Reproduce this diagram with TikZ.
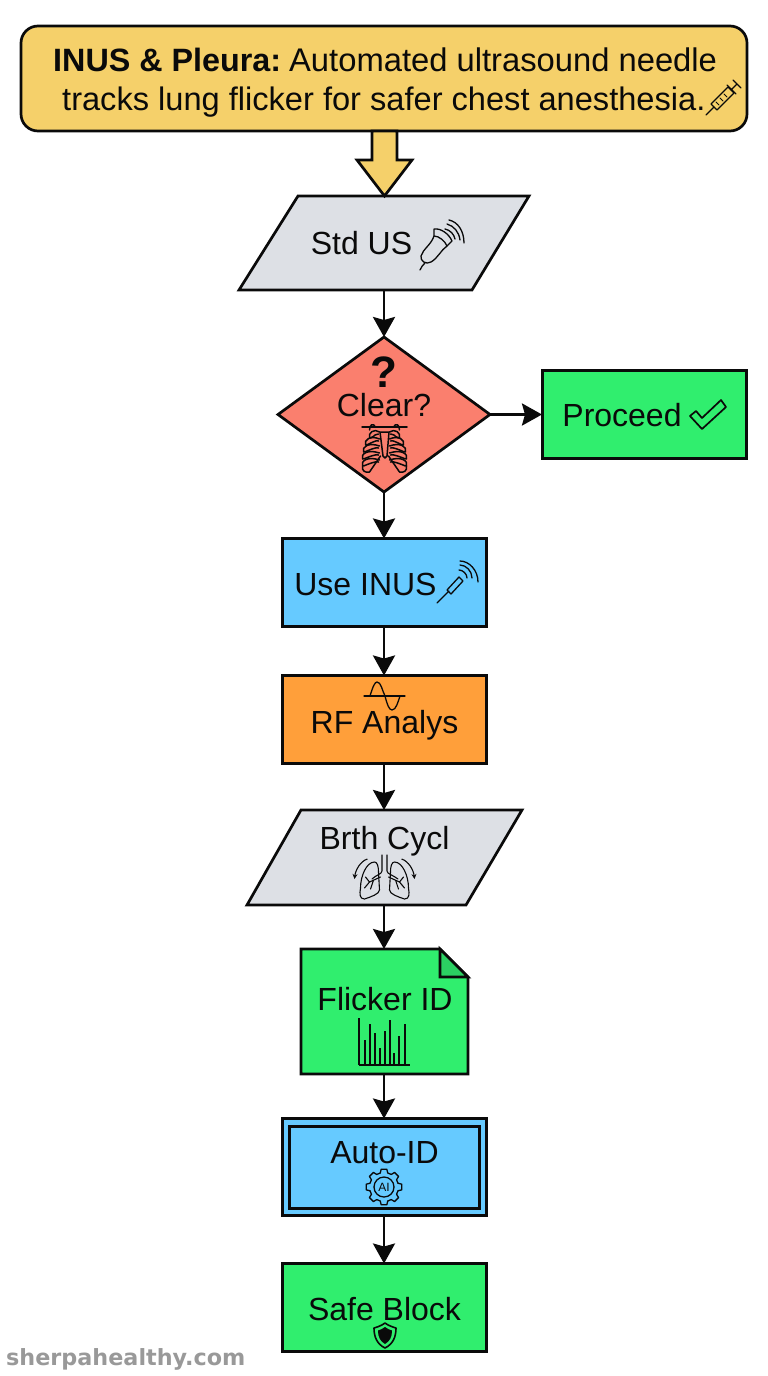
\documentclass[tikz,border=0pt]{standalone}
\usepackage{fontspec}
\setmainfont{Liberation Sans}
\newfontfamily\wmfont{DejaVu Sans}
\usetikzlibrary{arrows.meta,shapes.geometric}
\definecolor{cyellow}{HTML}{F5D06A}
\definecolor{cgray}{HTML}{DDE0E5}
\definecolor{cred}{HTML}{FA7F6E}
\definecolor{cgreen}{HTML}{30EE6E}
\definecolor{cfold}{HTML}{2BD062}
\definecolor{cblue}{HTML}{66CAFF}
\definecolor{corange}{HTML}{FF9F3A}
\definecolor{cmark}{HTML}{999999}
\definecolor{cink}{HTML}{0A0A0A}
\tikzset{
  x=1pt,y=-1pt,
  outl/.style={draw=cink,line width=2.7pt,line join=miter},
  boxnode/.style={outl,line width=3pt,rectangle,inner sep=0pt,outer sep=0pt,minimum width=204pt,minimum height=88pt},
  anchorbox/.style={rectangle,inner sep=0pt,outer sep=0pt},
  lbl/.style={anchor=base,inner sep=0pt,font=\fontsize{32}{36}\selectfont,text=cink},
  hdr/.style={anchor=base west,inner sep=0pt,font=\fontsize{32.6}{36}\selectfont,text=cink},
  flow/.style={draw=cink,line width=2.8pt,-{Stealth[length=20pt,width=22pt,inset=3pt]}},
  ico/.style={draw=cink,line width=1.3pt,line cap=round,line join=round},
}
\begin{document}
\begin{tikzpicture}
\useasboundingbox (0,0) rectangle (768,1376);
% header
\node[outl,rectangle,rounded corners=17pt,fill=cyellow,inner sep=0pt,outer sep=0pt,minimum width=726pt,minimum height=105pt] (head) at (384,78.5) {};
\node[hdr] (headA) at (53,71) {{\bfseries\fontsize{32.3}{36}\selectfont INUS \& Pleura:}\hspace{8pt}{\fontsize{32.75}{36}\selectfont Automated ultrasound needle}};
\node[hdr] (headB) at (62,110) {tracks lung flicker for safer chest anesthesia.};
% nodes
\node[anchorbox,minimum width=233pt,minimum height=94pt] (stdus) at (384,243) {};
\draw[outl,fill=cgray] (298,196) -- (529,196) -- (472,290) -- (239,290) -- cycle;
\node[outl,diamond,fill=cred,inner sep=0pt,outer sep=0pt,minimum width=212pt,minimum height=155pt] (clear) at (384,414.5) {};
\node[boxnode,fill=cgreen] (proc) at (644,414.5) {};
\node[boxnode,fill=cblue] (inus) at (384,582.5) {};
\node[boxnode,fill=corange] (rf) at (384,719.5) {};
\node[anchorbox,minimum width=221pt,minimum height=95pt] (brth) at (384,857.5) {};
\draw[outl,fill=cgray] (301,810) -- (522,810) -- (466,905) -- (247,905) -- cycle;
\node[anchorbox,minimum width=167pt,minimum height=125pt] (flick) at (384,1011.5) {};
\draw[outl,fill=cgreen] (301,949) -- (440,949) -- (468,977) -- (468,1074) -- (301,1074) -- cycle;
\draw[outl,fill=cfold] (440,949) -- (440,977) -- (468,977) -- cycle;
\node[boxnode,fill=cblue,minimum height=97pt] (auto) at (384,1167) {};
\node[outl,line width=3pt,rectangle,inner sep=0pt,outer sep=0pt,minimum width=190pt,minimum height=82pt] (autoin) at (384,1167) {};
\node[boxnode,fill=cgreen] (safe) at (384,1307.5) {};
% block arrow
\draw[outl,fill=cyellow] (372,131) -- (397,131) -- (397,160) -- (412,160) -- (384.5,196) -- (357,160) -- (372,160) -- cycle;
% connectors
\draw[flow] (stdus.south) -- (clear.north);
\draw[flow] (clear.east) -- (proc.west);
\draw[flow] (clear.south) -- (inus.north);
\draw[flow] (inus.south) -- (rf.north);
\draw[flow] (rf.south) -- (brth.north);
\draw[flow] (brth.south) -- (flick.north);
\draw[flow] (flick.south) -- (auto.north);
\draw[flow] (auto.south) -- (safe.north);
% labels
\node[lbl] (tStd) at (361.5,254) {Std US};
\node[lbl,font=\bfseries\fontsize{44}{46}\selectfont] (tQ) at (384,387) {?};
\node[lbl] (tClear) at (384,416) {Clear?};
\node[lbl] (tProc) at (622,426) {Proceed};
\node[lbl] (tInus) at (365.5,595) {Use INUS};
\node[lbl] (tRf) at (384.5,733) {RF Analys};
\node[lbl] (tBrth) at (384.5,849) {Brth Cycl};
\node[lbl] (tFlick) at (385,1010) {Flicker ID};
\node[lbl] (tAuto) at (384.5,1163) {Auto-ID};
\node[lbl] (tSafe) at (384.5,1320) {Safe Block};
\node[anchor=base west,inner sep=0pt,font=\wmfont\bfseries\fontsize{22.3}{26}\selectfont,text=cmark] (wm) at (6,1365) {sherpahealthy.com};
% syringe
\draw[ico] (706,115) -- (714,107);
\draw[ico] (711,104) -- (717,110) -- (734,93) -- (728,87) -- cycle;
\draw[ico] (727,85) -- (736,94) (731,90) -- (737,84) (733,80) -- (741,88);
\draw[ico,line width=.9pt] (716,102) -- (719,105) (720,98) -- (723,101) (724,94) -- (727,97);
% probe
\draw[ico] (434,229) .. controls (441,228) and (449,234) .. (452,241) -- (447,246)
  .. controls (441,250) and (438,258) .. (431,262) .. controls (426,265) and (420,261) .. (421,256)
  .. controls (423,249) and (431,245) .. (434,236) -- cycle;
\draw[ico] (434,236) .. controls (439,236) and (445,241) .. (447,246);
\draw[ico] (425,263) .. controls (422,265) and (422,267) .. (420,270);
\draw[ico] (445,229) .. controls (450,230) and (454,234) .. (455,239);
\draw[ico] (447,224) .. controls (454,226) and (459,232) .. (460,240);
\draw[ico] (449,220) .. controls (458,222) and (464,231) .. (464,243);
% check
\draw[ico,line width=1.7pt] (690,416) -- (702,429) -- (726,407) -- (721,400) -- (702,418) -- (696,411) -- cycle;
% ribcage
\draw[ico,line width=1.5pt] (362,427) -- (407,427);
\draw[ico,line width=1.5pt] (380,432) -- (383,456) -- (385,458) -- (387,456) -- (389,432) -- cycle;
\foreach \s in {-1,1}{
  \foreach \y/\w in {432/15,439/19,446/21,453/22,460/22}{
    \draw[ico,line width=1.5pt] ({384.5+\s*5},\y) .. controls ({384.5+\s*(\w-5)},{\y-4}) and ({384.5+\s*(\w+2)},{\y+1}) .. ({384.5+\s*\w},{\y+6}) ({384.5+\s*(\w-1)},{\y+6}) .. controls ({384.5+\s*(\w-6)},{\y+4}) and ({384.5+\s*9},{\y+1}) .. ({384.5+\s*6},{\y+2});
  }
  \draw[ico,line width=1.5pt] ({384.5+\s*4},456) -- ({384.5+\s*15},472) .. controls ({384.5+\s*19},473) and ({384.5+\s*23},471) .. ({384.5+\s*22},466);
  \draw[ico,line width=1.5pt] ({384.5+\s*9},427) .. controls ({384.5+\s*11},423) and ({384.5+\s*15},424) .. ({384.5+\s*15},430);
}
% needle probe
\draw[ico] (437,603) -- (449,591);
\draw[ico] (447,590) -- (459,577) -- (463,581) -- (451,594) -- cycle;
\draw[ico] (459,570) .. controls (463,570) and (467,574) .. (467,578);
\draw[ico] (460,565) .. controls (466,565) and (472,571) .. (472,578);
\draw[ico] (460,561) .. controls (469,561) and (478,570) .. (478,582);
% sine
\draw[ico] (364,696) -- (405,696);
\draw[ico] (370,696) .. controls (373,686) and (375,682) .. (377,682) .. controls (381,682) and (382,690) .. (385,696)
  .. controls (387,704) and (389,710) .. (392,710) .. controls (396,710) and (398,702) .. (400,696);
% lungs
\draw[ico,line width=1.1pt] (382,855) -- (382,871) .. controls (382,874) and (376,875) .. (372,879) (387,855) -- (387,871) .. controls (387,874) and (393,875) .. (398,879);
\foreach \s in {-1,1}{
  \draw[ico,line width=1.1pt] ({384.5+\s*6},872) -- ({384.5+\s*5},890) .. controls ({384.5+\s*5},894) and ({384.5+\s*14},897) .. ({384.5+\s*20},899)
    .. controls ({384.5+\s*25},899) and ({384.5+\s*25},894) .. ({384.5+\s*24},888) .. controls ({384.5+\s*24},876) and ({384.5+\s*18},862) .. ({384.5+\s*10},862) .. controls ({384.5+\s*7},862) and ({384.5+\s*6},867) .. ({384.5+\s*6},872);
  \draw[ico,line width=1.1pt] ({384.5+\s*4},877) -- ({384.5+\s*15},882) -- ({384.5+\s*19},877) ({384.5+\s*11},880) -- ({384.5+\s*14},889) ({384.5+\s*15},882) -- ({384.5+\s*20},888);
  \draw[draw=cink,line width=1.1pt,-{Stealth[length=5pt,width=5pt]}] ({384.5+\s*17},859) .. controls ({384.5+\s*24},861) and ({384.5+\s*29},870) .. ({384.5+\s*30},879);
}
% bars
\draw[ico,line width=1.7pt,line cap=butt] (359,1018) -- (359,1065) (359,1065) -- (410,1065);
\foreach \x/\y in {365/1040,370/1024,375/1033,380/1048,385/1031,390/1020,394/1053,399/1036,405/1024}{
  \draw[ico,line width=1.7pt,line cap=butt] (\x,1065) -- (\x,\y);
}
% gear
\foreach \k in {0,...,7}{
  \pgfmathsetmacro{\a}{45*\k}
  \draw[ico] ({384+14.5*cos(\a-15)},{1187+14.5*sin(\a-15)}) -- ({384+18*cos(\a-9)},{1187+18*sin(\a-9)})
    -- ({384+18*cos(\a+9)},{1187+18*sin(\a+9)}) -- ({384+14.5*cos(\a+15)},{1187+14.5*sin(\a+15)})
    -- ({384+14.5*cos(\a+30)},{1187+14.5*sin(\a+30)});
}
\node[circle,draw=cink,line width=1.3pt,minimum size=20pt,inner sep=0pt,font=\fontsize{12}{13}\selectfont,text=cink] (ai) at (384,1187) {AI};
% shield
\draw[ico,line width=1.6pt] (385,1323) .. controls (389,1326) and (393,1327) .. (396,1328) .. controls (396,1337) and (393,1344) .. (385,1348) .. controls (377,1344) and (374,1337) .. (374,1328) .. controls (377,1327) and (381,1326) .. (385,1323) -- cycle;
\fill[cink] (385,1327) .. controls (388,1329) and (390,1330) .. (392,1330.5) .. controls (392,1337) and (390,1341) .. (385,1344) .. controls (380,1341) and (378,1337) .. (378,1330.5) .. controls (380,1330) and (382,1329) .. (385,1327) -- cycle;
\end{tikzpicture}
\end{document}
